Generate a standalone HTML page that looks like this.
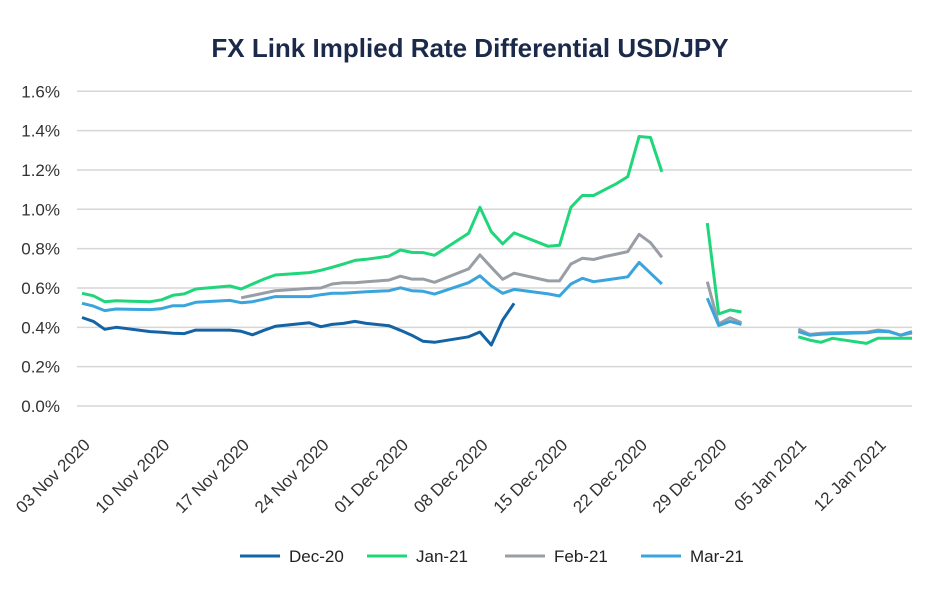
<!DOCTYPE html>
<html><head><meta charset="utf-8">
<style>
html,body{margin:0;padding:0;background:#fff;}
svg{display:block;font-family:"Liberation Sans",sans-serif;}
</style></head>
<body>
<svg id="chart" width="940" height="600" viewBox="0 0 940 600">
<text x="470" y="57" text-anchor="middle" font-size="26" font-weight="bold" fill="#1b2a4a">FX Link Implied Rate Differential USD/JPY</text>
<g id="grid"></g>
<g id="ylabels"></g>
<g id="xlabels"></g>
<g id="series"></g>
<g id="legend"></g>
</svg>
<script>
// Day offsets from 03 Nov 2020; null = no data (gap)
const days = [0,1,2,3,6,7,8,9,10,13,14,15,16,17,20,21,22,23,24,25,27,28,29,30,31,34,35,36,37,38,41,42,43,44,45,46,47,48,49,50,51,52,55,56,57,58,59,62,63,64,65,66,69,70,71,72,73];
const dec20 = [0.45,0.43,0.39,0.40,0.378,0.375,0.37,0.368,0.386,0.386,0.38,0.362,0.385,0.405,0.423,0.403,0.415,0.42,0.43,0.42,0.408,0.385,0.36,0.329,0.324,0.352,0.376,0.31,0.437,0.522,null,null,null,null,null,null,null,null,null,null,null,null,null,null,null,null,null,null,null,null,null,null,null,null,null,null,null];
const jan21 = [0.573,0.56,0.53,0.535,0.53,0.54,0.563,0.57,0.595,0.61,0.595,0.62,0.645,0.666,0.678,0.69,0.705,0.722,0.74,0.746,0.762,0.793,0.781,0.78,0.766,0.878,1.01,0.886,0.824,0.88,0.812,0.817,1.01,1.07,1.07,1.1,1.13,1.166,1.37,1.365,1.19,null,0.93,0.468,0.488,0.478,null,null,0.352,0.335,0.324,0.344,0.318,0.344,0.344,0.344,0.344];
const feb21 = [null,null,null,null,null,null,null,null,null,null,0.55,0.562,0.574,0.586,0.598,0.60,0.62,0.627,0.627,0.632,0.64,0.66,0.645,0.645,0.629,0.697,0.768,0.705,0.644,0.675,0.636,0.636,0.722,0.751,0.745,0.76,0.772,0.785,0.873,0.83,0.756,null,0.632,0.417,0.449,0.423,null,null,0.391,0.364,0.37,0.372,0.375,0.386,0.38,0.36,0.37];
const mar21 = [0.522,0.508,0.485,0.493,0.49,0.495,0.51,0.51,0.527,0.537,0.525,0.53,0.543,0.556,0.556,0.566,0.573,0.573,0.577,0.581,0.586,0.601,0.586,0.583,0.569,0.627,0.662,0.61,0.573,0.593,0.57,0.559,0.62,0.649,0.632,0.64,0.648,0.657,0.73,0.675,0.62,null,0.548,0.41,0.43,0.415,null,null,0.378,0.36,0.365,0.368,0.372,0.38,0.377,0.36,0.378];
const seriesNames = ["Dec-20","Jan-21","Feb-21","Mar-21"];
const yTicks = [0,0.2,0.4,0.6,0.8,1.0,1.2,1.4,1.6];
const xTickDays = [0,7,14,21,28,35,42,49,56,63,70];
const xTickLabels = ["03 Nov 2020","10 Nov 2020","17 Nov 2020","24 Nov 2020","01 Dec 2020","08 Dec 2020","15 Dec 2020","22 Dec 2020","29 Dec 2020","05 Jan 2021","12 Jan 2021"];

const colors = ["#1464a5","#1fd67a","#999ea6","#3aa5dc"];
const NS = "http://www.w3.org/2000/svg";
const X0=82, DX=11.37, Y0=406, DY=196.7;
function xs(d){return X0+DX*d;}
function ys(v){return Y0-DY*v;}
function mk(tag,attrs,parent){const e=document.createElementNS(NS,tag);for(const k in attrs)e.setAttribute(k,attrs[k]);parent.appendChild(e);return e;}

const grid=document.getElementById('grid'), yl=document.getElementById('ylabels');
yTicks.forEach(t=>{
  const l=mk('line',{x1:77,x2:912,y1:ys(t),y2:ys(t),stroke:'#d6d6d6','stroke-width':1.5},grid);
  
  
  const tx=mk('text',{x:60,y:ys(t)+6,'text-anchor':'end','font-size':17,fill:'#333'},yl);
  tx.textContent=t.toFixed(1)+'%';
  
  
});
const xl=document.getElementById('xlabels');
xTickDays.forEach((d,i)=>{
  const x=xs(d)+9, y=446;
  const tx=mk('text',{x:x,y:y,'text-anchor':'end','font-size':17,fill:'#333',transform:`rotate(-45 ${x} ${y})`},xl);
  tx.textContent=xTickLabels[i];
  
  
});
const sg=document.getElementById('series');
[dec20,jan21,feb21,mar21].forEach((vals,si)=>{
  let segs=[],cur=[];
  vals.forEach((v,i)=>{
    if(v===null){if(cur.length)segs.push(cur);cur=[];}
    else cur.push(xs(days[i]).toFixed(1)+','+ys(v).toFixed(1));
  });
  if(cur.length)segs.push(cur);
  segs.forEach(s=>{
    const p=mk('polyline',{points:s.join(' '),fill:'none',stroke:colors[si],'stroke-width':3,'stroke-linejoin':'round'},sg);
    
    
  });
});
const lg=document.getElementById('legend');
const lx=[240,367,505,641];
seriesNames.forEach((n,i)=>{
  const l=mk('line',{x1:lx[i],x2:lx[i]+40,y1:556,y2:556,stroke:colors[i],'stroke-width':3},lg);
  
  
  const t=mk('text',{x:lx[i]+49,y:562,'font-size':17,fill:'#222'},lg);
  t.textContent=n;
  
  
});
</script>
</body></html>
